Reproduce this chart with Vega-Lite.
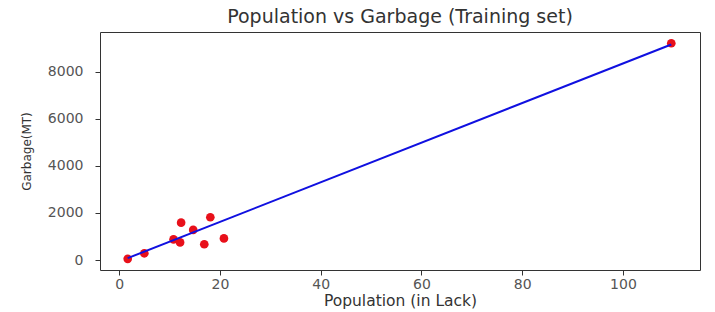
{
  "$schema": "https://vega.github.io/schema/vega-lite/v6.json",
  "autosize": {"type": "none"},
  "width": 600,
  "height": 238,
  "padding": {"left": 100, "top": 32, "right": 15, "bottom": 42},
  "background": "white",
  "title": {"text": "Population vs Garbage (Training set)", "font": "DejaVu Sans", "fontSize": 19, "fontWeight": "normal", "color": "#333", "offset": 5},
  "config": {
    "view": {"stroke": "#333", "strokeWidth": 1},
    "axis": {"grid": false, "domain": false, "tickColor": "#333", "tickSize": 5, "labelFont": "DejaVu Sans", "labelFontSize": 14, "labelColor": "#555", "titleFont": "DejaVu Sans", "titleFontWeight": "normal", "titleColor": "#333", "format": "d"}
  },
  "datasets": {
    "pts": [
      {"pop": 1.7, "garbage": 50},
      {"pop": 5.0, "garbage": 285},
      {"pop": 10.8, "garbage": 880},
      {"pop": 12.1, "garbage": 750},
      {"pop": 12.3, "garbage": 1590},
      {"pop": 14.7, "garbage": 1280},
      {"pop": 16.9, "garbage": 670},
      {"pop": 18.1, "garbage": 1820},
      {"pop": 20.8, "garbage": 920},
      {"pop": 109.6, "garbage": 9220}
    ],
    "fit": [
      {"pop": 1.7, "pred": 80},
      {"pop": 109.6, "pred": 9170}
    ]
  },
  "layer": [
    {
      "data": {"name": "pts"},
      "mark": {"type": "circle", "color": "#e8101a", "opacity": 1, "size": 75},
      "encoding": {
        "x": {"field": "pop", "type": "quantitative", "scale": {"domain": [-3.8, 115.3], "nice": false, "zero": false},
              "axis": {"values": [0, 20, 40, 60, 80, 100], "title": "Population (in Lack)", "titleFontSize": 15.5, "labelPadding": 2, "titlePadding": 2}},
        "y": {"field": "garbage", "type": "quantitative", "scale": {"domain": [-425, 9700], "nice": false, "zero": false},
              "axis": {"values": [0, 2000, 4000, 6000, 8000], "title": "Garbage(MT)", "titleFontSize": 12, "labelPadding": 12, "titlePadding": 14}}
      }
    },
    {
      "data": {"name": "fit"},
      "mark": {"type": "line", "color": "#1010e0", "strokeWidth": 2},
      "encoding": {
        "x": {"field": "pop", "type": "quantitative"},
        "y": {"field": "pred", "type": "quantitative"}
      }
    }
  ]
}
